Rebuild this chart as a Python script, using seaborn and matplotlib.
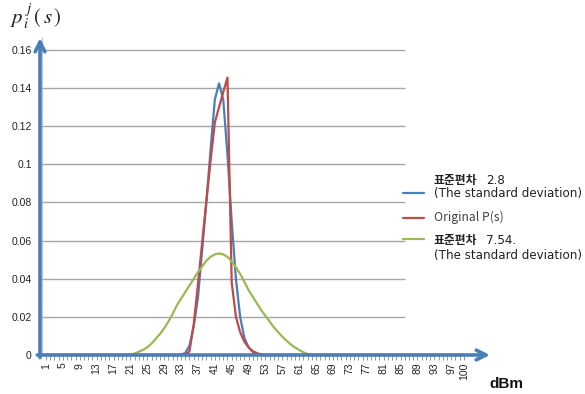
import numpy as np
import pandas as pd
import matplotlib.pyplot as plt
import seaborn as sns
from matplotlib.lines import Line2D

# categories on the x axis (dBm bins)
categories = np.arange(1, 101)
tick_labels = [1, 5, 9, 13, 17, 21, 25, 29, 33, 37, 41, 45, 49, 53, 57, 61, 65,
               69, 73, 77, 81, 85, 89, 93, 97, 100]
y_ticks = [0, 0.02, 0.04, 0.06, 0.08, 0.1, 0.12, 0.14, 0.16]

# non-zero stretches of each series (everything else is 0)
blue_start = 33
blue_vals = [0.0003, 0.001, 0.005, 0.015, 0.03, 0.055, 0.08, 0.108, 0.134,
             0.1425, 0.134, 0.105, 0.07, 0.04, 0.02, 0.009, 0.004, 0.0015, 0.0005]
red_start = 35
red_vals = [0.002, 0.016, 0.037, 0.059, 0.081, 0.102, 0.122, 0.130, 0.138,
            0.1455, 0.038, 0.020, 0.012, 0.007, 0.004, 0.002, 0.001, 0.0003]
green_start = 21
green_vals = [0.0003, 0.0008, 0.0017, 0.0027, 0.004, 0.006, 0.0085, 0.011, 0.014,
              0.0175, 0.0215, 0.026, 0.0295, 0.033, 0.0365, 0.040, 0.0435, 0.0465,
              0.0495, 0.0515, 0.0528, 0.0533, 0.0528, 0.0515, 0.049, 0.046, 0.0425,
              0.0385, 0.034, 0.0305, 0.027, 0.0235, 0.0205, 0.0175, 0.0145, 0.012,
              0.0096, 0.0075, 0.0055, 0.004, 0.0026, 0.0014, 0.0005, 0.0001]


def full(start, vals):
    arr = np.zeros(len(categories))
    arr[start - 1:start - 1 + len(vals)] = vals
    return arr


df = pd.concat([
    pd.DataFrame({'dBm': categories, 'p': full(blue_start, blue_vals), 'series': 'sd28'}),
    pd.DataFrame({'dBm': categories, 'p': full(red_start, red_vals), 'series': 'orig'}),
    pd.DataFrame({'dBm': categories, 'p': full(green_start, green_vals), 'series': 'sd754'}),
])
colors = {'sd28': '#4a7ebb', 'orig': '#be4b48', 'sd754': '#98b954'}

sns.set_style('white')
plt.rcParams['font.family'] = ['Liberation Sans', 'DejaVu Sans']
plt.rcParams['mathtext.fontset'] = 'stix'

fig = plt.figure(figsize=(5.85, 3.94), dpi=100)
ax = fig.add_axes([40 / 585, 39 / 394, 450 / 585, 317 / 394])

x_left, x_right = -0.42, 106.2
ax.set_xlim(x_left, x_right)
ax.set_ylim(0, 0.16 * 317 / 305)

# gridlines stop before the legend
for yv in y_ticks[1:]:
    ax.hlines(yv, x_left, 86.0, color='#a6a6a6', lw=1.0, zorder=1)
ax.axvline(0.1, color='#bfbfbf', lw=0.8, zorder=1)

sns.lineplot(data=df, x='dBm', y='p', hue='series', palette=colors,
             hue_order=['sd28', 'orig', 'sd754'], legend=False,
             linewidth=1.6, ax=ax, zorder=3)

for s in ax.spines.values():
    s.set_visible(False)

ax.set_xticks(categories)
ax.set_xticklabels([str(c) if c in tick_labels else '' for c in categories],
                   rotation=90, fontsize=7.5, color='#222222')
ax.tick_params(axis='x', length=3.5, width=0.7, color='#9a9a9a', pad=2,
               direction='out', bottom=True)
ax.set_yticks(y_ticks)
ax.set_yticklabels(['0', '0.02', '0.04', '0.06', '0.08', '0.1', '0.12', '0.14', '0.16'],
                   fontsize=7.5, color='#222222')
ax.tick_params(axis='y', length=0, pad=6)
ax.set_xlabel('')
ax.set_ylabel('')

arrow_c = '#4a7ebb'
ax.annotate('', xy=(1.0, 0), xytext=(-0.006, 0), xycoords='axes fraction',
            arrowprops=dict(arrowstyle='->,head_length=0.7,head_width=0.35',
                            color=arrow_c, lw=2.6, shrinkA=0, shrinkB=0),
            annotation_clip=False, zorder=5)
ax.annotate('', xy=(0, 1.0), xytext=(0, -0.008), xycoords='axes fraction',
            arrowprops=dict(arrowstyle='->,head_length=0.7,head_width=0.35',
                            color=arrow_c, lw=2.6, shrinkA=0, shrinkB=0),
            annotation_clip=False, zorder=5)

# axis titles
fig.text(10 / 585, 1 - 24 / 394, r'$p_{\,i}^{\;j}\,(\,s\,)$', fontsize=15,
         va='baseline', ha='left', color='#222222')
fig.text(489 / 585, 1 - 384 / 394, 'dBm', fontsize=11, fontweight='bold',
         va='center', ha='left', color='#111111')

# legend
kr = ['Noto Sans CJK KR', 'DejaVu Sans']


def px(x, y):
    return x / 585, 1 - y / 394


def handle(y, c):
    fig.add_artist(Line2D([403 / 585, 424 / 585], [1 - y / 394] * 2, color=c, lw=1.6))


handle(193, colors['sd28'])
handle(218, colors['orig'])
handle(239, colors['sd754'])

fig.text(*px(434, 180), '표준편차', family=kr, fontsize=8.5, fontweight='bold',
         va='center', color='#222222')
fig.text(*px(486, 180), '2.8', family='DejaVu Sans', fontsize=8.6, va='center',
         color='#222222')
fig.text(*px(434, 194), '(The standard deviation)', family='DejaVu Sans', fontsize=8.6,
         va='center', color='#222222')
fig.text(*px(434, 217), 'Original P(s)', family=kr, fontsize=8.8, va='center',
         color='#444444')
fig.text(*px(434, 240), '표준편차', family=kr, fontsize=8.5, fontweight='bold',
         va='center', color='#222222')
fig.text(*px(486, 240), '7.54.', family='DejaVu Sans', fontsize=8.6, va='center',
         color='#222222')
fig.text(*px(434, 256), '(The standard deviation)', family='DejaVu Sans', fontsize=8.6,
         va='center', color='#222222')

fig.savefig('out.png', dpi=100)
